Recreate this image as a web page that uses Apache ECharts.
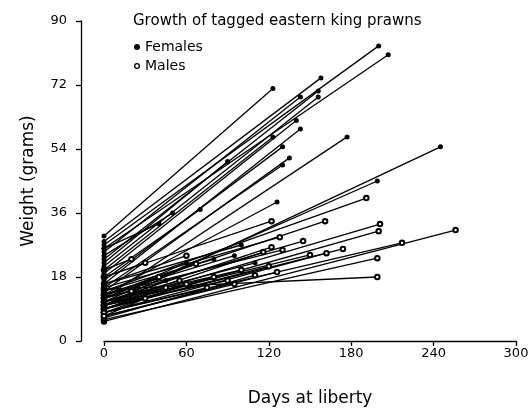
<!DOCTYPE html>
<html>
<head>
<meta charset="utf-8">
<script src="https://cdn.jsdelivr.net/npm/echarts@6/dist/echarts.min.js"></script>
<style>html,body{margin:0;padding:0;background:#fff}#c{width:530px;height:408px}</style>
</head>
<body>
<div id="c"></div>
<script>
// Female prawns: weight at release (day 0), days at liberty, weight at recapture
var femaleStartW = [29.5, 27, 26, 28, 23, 21, 25, 19, 16, 20, 17, 14, 15, 12, 10, 13, 11, 22, 18, 24, 26, 12, 10, 13, 11, 14, 9, 16];
var femaleDays   = [123, 200, 207, 158, 156, 156, 143, 140, 143, 123, 130, 135, 130, 177, 245, 126, 199, 90, 70, 50, 40, 60, 45, 95, 110, 80, 30, 100];
var femaleEndW   = [71, 83, 80.5, 74, 70.3, 68.6, 68.6, 62, 59.6, 57.4, 54.6, 51.5, 49.5, 57.4, 54.6, 39.1, 45, 50.5, 37, 36, 33, 22, 17, 24, 22, 23, 13, 27];
// Male prawns
var maleStartW = [14, 13, 18, 10, 9, 5.5, 8, 12, 9, 15, 11, 13, 10, 8, 10, 6, 14.5, 7, 12, 8, 9, 10, 11, 7, 12, 6.5, 9, 10, 8, 11, 7, 13, 16, 18, 20];
var maleDays   = [191, 161, 122, 201, 200, 256, 217, 145, 174, 128, 122, 130, 116, 162, 150, 199, 199, 126, 67, 60, 45, 80, 100, 30, 20, 110, 120, 90, 75, 55, 95, 40, 60, 30, 20];
var maleEndW   = [40.2, 33.7, 33.7, 32.9, 30.9, 31.2, 27.6, 28.1, 25.9, 29.2, 26.4, 25.6, 25, 24.7, 24.2, 23.3, 18, 19.4, 21.7, 16, 15, 18, 20, 12, 14, 18.5, 21, 17, 15, 17, 16, 18, 24, 22, 23];
var xTicks = [0, 60, 120, 180, 240, 300];
var yTicks = [0, 18, 36, 54, 72, 90];

var FONT = 'DejaVu Sans';
var RING = 'path://M0,5a5,5 0 1,0 10,0a5,5 0 1,0 -10,0zM2.2,5a2.8,2.8 0 1,1 5.6,0a2.8,2.8 0 1,1 -5.6,0z';
var series = [];
function addSeg(name, w0, d, w1, filled) {
  series.push({
    name: name, type: 'line', data: [[0, w0], [d, w1]],
    symbol: filled ? 'circle' : 'emptyCircle', symbolSize: filled ? 5 : 4.5,
    showSymbol: true, animation: false, silent: true,
    lineStyle: { color: '#000', width: 1.3 },
    itemStyle: { color: '#000', borderColor: '#000', borderWidth: filled ? 0 : 1 }
  });
}
for (var i = 0; i < maleStartW.length; i++) addSeg('Males', maleStartW[i], maleDays[i], maleEndW[i], false);
for (var j = 0; j < femaleStartW.length; j++) addSeg('Females', femaleStartW[j], femaleDays[j], femaleEndW[j], true);

var chart = echarts.init(document.getElementById('c'), null, { renderer: 'canvas' });
chart.setOption({
  animation: false,
  backgroundColor: '#fff',
  title: {
    text: 'Growth of tagged eastern king prawns', left: 128, top: 9,
    textStyle: { fontFamily: FONT, fontSize: 15, fontWeight: 'normal', color: '#000' }
  },
  legend: {
    orient: 'vertical', left: 129, top: 35, itemWidth: 6, itemHeight: 6, itemGap: 5,
    textStyle: { fontFamily: FONT, fontSize: 14, color: '#000' },
    data: [
      { name: 'Females', icon: 'circle', itemStyle: { color: '#000', borderWidth: 0 } },
      { name: 'Males', icon: RING, itemStyle: { color: '#000', borderWidth: 0 } }
    ]
  },
  grid: { left: 104, right: 14, top: 21, bottom: 67, containLabel: false, outerBoundsMode: 'none' },
  xAxis: {
    type: 'value', min: xTicks[0], max: xTicks[xTicks.length - 1], interval: 60,
    name: 'Days at liberty', nameLocation: 'middle', nameGap: 49,
    nameTextStyle: { fontFamily: FONT, fontSize: 17, color: '#000' },
    axisLine: { show: true, onZero: false, lineStyle: { color: '#000', width: 1.3 } },
    axisTick: { show: true, inside: false, length: 5, lineStyle: { color: '#000', width: 1.3 } },
    axisLabel: { fontFamily: FONT, fontSize: 13, color: '#000', margin: 6 },
    splitLine: { show: false }
  },
  yAxis: {
    type: 'value', min: yTicks[0], max: yTicks[yTicks.length - 1], interval: 18, offset: 23,
    name: 'Weight (grams)', nameLocation: 'middle', nameGap: 44, nameRotate: 90,
    nameTextStyle: { fontFamily: FONT, fontSize: 17, color: '#000' },
    axisLine: { show: true, onZero: false, lineStyle: { color: '#000', width: 1.3 } },
    axisTick: { show: true, length: 5, lineStyle: { color: '#000', width: 1.3 } },
    axisLabel: { fontFamily: FONT, fontSize: 13, color: '#000', margin: 14 },
    splitLine: { show: false }
  },
  series: series
});
</script>
</body>
</html>
